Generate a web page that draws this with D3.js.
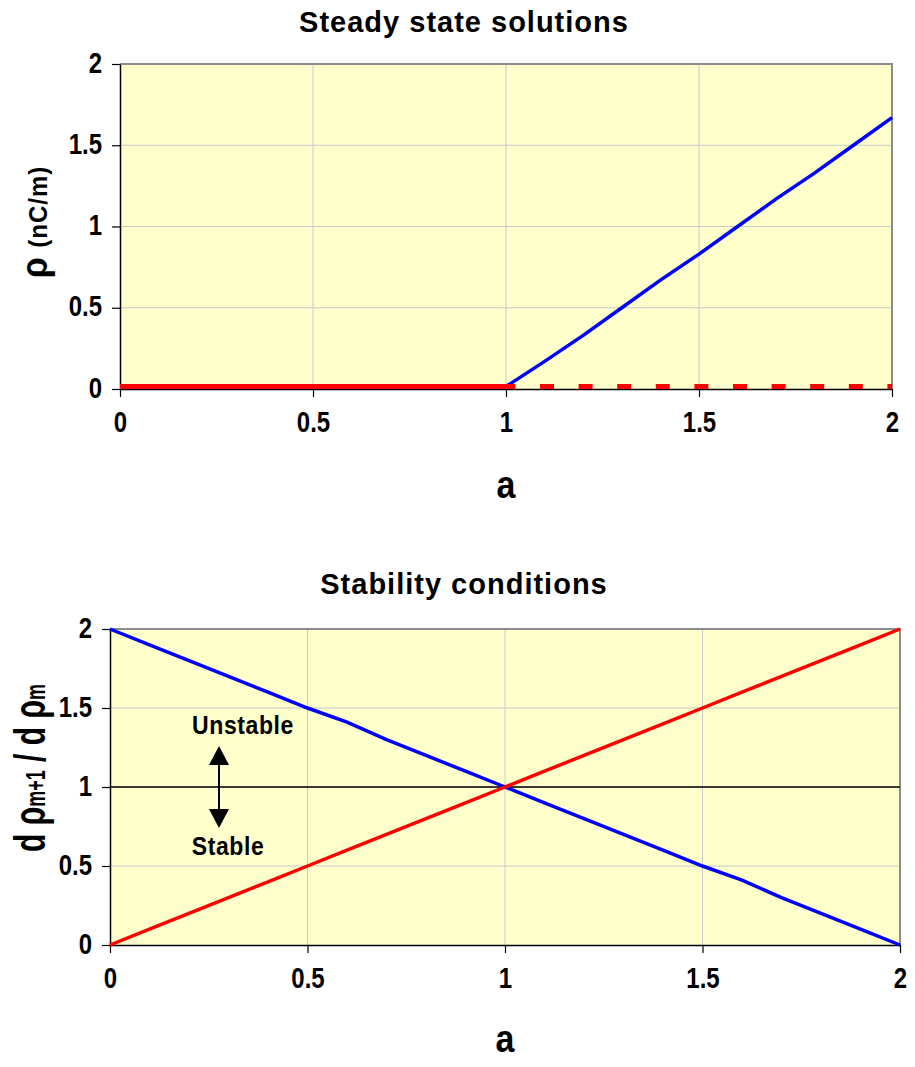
<!DOCTYPE html>
<html>
<head>
<meta charset="utf-8">
<script src="https://cdn.jsdelivr.net/npm/d3@7"></script>
<style>
  body { margin: 0; background: #fff; }
  text { font-family: Arial, "Liberation Sans", sans-serif; font-weight: bold; fill: #000; }
</style>
</head>
<body>
<div id="vis"></div>
<script>
// data
const A_STEPS = [0, 0.1, 0.2, 0.3, 0.4, 0.5, 0.6, 0.7, 0.8, 0.9, 1.0, 1.1, 1.2, 1.3, 1.4, 1.5, 1.6, 1.7, 1.8, 1.9, 2.0];
const X_TICKS = [0, 0.5, 1, 1.5, 2];
const Y_TICKS = [0, 0.5, 1, 1.5, 2];

// steady state: red solution rho=0 (solid up to 1, dashed after), blue branch after 1
const RHO_ZERO_A = [0, 0.1, 0.2, 0.3, 0.4, 0.5, 0.6, 0.7, 0.8, 0.9, 1.0];
const RHO_ZERO = [0.015, 0.015, 0.015, 0.015, 0.015, 0.015, 0.015, 0.015, 0.015, 0.015, 0.015];
const RHO_ZERO_DASH_A = [1.0, 1.1, 1.2, 1.3, 1.4, 1.5, 1.6, 1.7, 1.8, 1.9, 2.0];
const RHO_ZERO_DASH = [0.015, 0.015, 0.015, 0.015, 0.015, 0.015, 0.015, 0.015, 0.015, 0.015, 0.015];
const RHO_BRANCH_A = [1.0, 1.1, 1.2, 1.3, 1.4, 1.5, 1.6, 1.7, 1.8, 1.9, 2.0];
const RHO_BRANCH = [0.015, 0.17, 0.33, 0.5, 0.67, 0.83, 1.0, 1.17, 1.33, 1.5, 1.67];

// stability: derivative for each solution
const DERIV_BLUE = [2.0, 1.9, 1.8, 1.7, 1.6, 1.5, 1.41, 1.3, 1.2, 1.1, 1.0, 0.9, 0.8, 0.7, 0.6, 0.5, 0.41, 0.3, 0.2, 0.1, 0.0];
const DERIV_RED = [0.0, 0.1, 0.2, 0.3, 0.4, 0.5, 0.6, 0.7, 0.8, 0.9, 1.0, 1.1, 1.2, 1.3, 1.4, 1.5, 1.6, 1.7, 1.8, 1.9, 2.0];
const STABLE_LINE = [1, 1];

const WIDTH = 915, HEIGHT = 1067;
const STRETCH = 1.2; // the original's lettering is drawn taller than plain Arial

const SVG = d3.select("#vis").append("svg")
    .attr("width", WIDTH)
    .attr("height", HEIGHT);

function zip(xs, ys) { return xs.map((x, i) => [x, ys[i]]); }

// tall text: baseline kept at (x, y), glyphs stretched vertically
function tallText(parent, x, y, size, str, stretch) {
    return parent.append("text")
        .attr("transform", `translate(${x},${y}) scale(1,${stretch || STRETCH})`)
        .attr("text-anchor", "middle")
        .attr("font-size", size)
        .text(str);
}

function makeChart(box, title, titleY, xLabelY) {
    const X = d3.scaleLinear().domain([0, 2]).range([box.left, box.right]);
    const Y = d3.scaleLinear().domain([0, 2]).range([box.bottom, box.top]);
    const g = SVG.append("g");

    g.append("rect")
        .attr("x", box.left).attr("y", box.top)
        .attr("width", box.right - box.left).attr("height", box.bottom - box.top)
        .attr("fill", "#ffffcc");

    // grid
    g.selectAll(".vgrid").data(X_TICKS.slice(1, -1)).enter().append("line")
        .attr("x1", d => X(d)).attr("x2", d => X(d))
        .attr("y1", box.top).attr("y2", box.bottom)
        .attr("stroke", "#c8c8c8").attr("stroke-width", 1);
    g.selectAll(".hgrid").data(Y_TICKS.slice(1, -1)).enter().append("line")
        .attr("x1", box.left).attr("x2", box.right)
        .attr("y1", d => Y(d)).attr("y2", d => Y(d))
        .attr("stroke", "#c8c8c8").attr("stroke-width", 1);

    // top/right frame
    g.append("path")
        .attr("d", `M${box.left},${box.top}H${box.right}V${box.bottom}`)
        .attr("fill", "none").attr("stroke", "#8c8c8c").attr("stroke-width", 2);

    // axes
    const xAxis = g.append("g")
        .attr("transform", "translate(0," + box.bottom + ")")
        .call(d3.axisBottom(X).tickValues(X_TICKS).tickSize(8).tickSizeOuter(0).tickFormat(d3.format("")));
    const yAxis = g.append("g")
        .attr("transform", "translate(" + box.left + ",0)")
        .call(d3.axisLeft(Y).tickValues(Y_TICKS).tickSize(8).tickSizeOuter(0).tickPadding(10).tickFormat(d3.format("")));
    [xAxis, yAxis].forEach(ax => {
        ax.attr("font-family", null).attr("font-size", null);
        ax.select(".domain").attr("stroke", "#000").attr("stroke-width", 1.5);
        ax.selectAll(".tick line").attr("stroke", "#000").attr("stroke-width", 1.2);
        ax.selectAll("text")
            .attr("font-size", 24)
            .attr("fill", "#000");
    });
    // x labels: baseline 43px below axis, stretched
    xAxis.selectAll("text")
        .attr("y", null).attr("dy", null)
        .attr("transform", `translate(0,43) scale(1,${STRETCH})`);
    yAxis.selectAll("text")
        .attr("x", null).attr("dy", null)
        .attr("transform", `translate(-18,8) scale(1,${STRETCH})`);

    g.append("text")
        .attr("x", 464).attr("y", titleY)
        .attr("text-anchor", "middle")
        .attr("font-size", 29).attr("letter-spacing", 1)
        .text(title);

    tallText(g, (box.left + box.right) / 2, xLabelY, 34, "a", 1.15);

    return {g, X, Y};
}

const line = (X, Y) => d3.line().x(d => X(d[0])).y(d => Y(d[1]));

// chart 1
const C1 = makeChart({left: 120, right: 892, top: 64, bottom: 389}, "Steady state solutions", 32, 498);
const L1 = line(C1.X, C1.Y);
C1.g.append("path").datum(zip(RHO_BRANCH_A, RHO_BRANCH))
    .attr("d", L1).attr("fill", "none").attr("stroke", "#0000ff").attr("stroke-width", 3.5);
C1.g.append("path").datum(zip(RHO_ZERO_A, RHO_ZERO))
    .attr("d", L1).attr("fill", "none").attr("stroke", "#ff0000").attr("stroke-width", 5);
const STEP1 = C1.X(0.1) - C1.X(0);
C1.g.append("path").datum(zip(RHO_ZERO_DASH_A, RHO_ZERO_DASH))
    .attr("d", L1).attr("fill", "none").attr("stroke", "#ff0000").attr("stroke-width", 5)
    .attr("stroke-dasharray", "14," + (STEP1 - 14))
    .attr("stroke-dashoffset", STEP1 - 34);

C1.g.append("text")
    .attr("transform", `translate(47,222) rotate(-90) scale(1,1.1)`)
    .attr("text-anchor", "middle")
    .call(t => {
        t.append("tspan").attr("font-size", 34).text("ρ ");
        t.append("tspan").attr("font-size", 24).attr("letter-spacing", 1).text("(nC/m)");
    });

// chart 2
const C2 = makeChart({left: 110, right: 900, top: 629, bottom: 945}, "Stability conditions", 594, 1052);
const L2 = line(C2.X, C2.Y);
C2.g.append("path").datum([[0, STABLE_LINE[0]], [2, STABLE_LINE[1]]])
    .attr("d", L2).attr("fill", "none").attr("stroke", "#000").attr("stroke-width", 1.5);
C2.g.append("path").datum(zip(A_STEPS, DERIV_BLUE))
    .attr("d", L2).attr("fill", "none").attr("stroke", "#0000ff").attr("stroke-width", 3.5);
C2.g.append("path").datum(zip(A_STEPS, DERIV_RED))
    .attr("d", L2).attr("fill", "none").attr("stroke", "#ff0000").attr("stroke-width", 3.5);

// stable / unstable annotation
const ax = 219;
C2.g.append("line").attr("x1", ax).attr("x2", ax).attr("y1", 760).attr("y2", 815)
    .attr("stroke", "#000").attr("stroke-width", 2);
C2.g.append("path").attr("d", `M${ax},746L${ax - 10},765L${ax + 10},765Z`).attr("fill", "#000");
C2.g.append("path").attr("d", `M${ax},828L${ax - 10},809L${ax + 10},809Z`).attr("fill", "#000");
tallText(C2.g, 243, 734, 23, "Unstable", 1.1).attr("letter-spacing", 0.6);
tallText(C2.g, 228, 855, 23, "Stable", 1.1).attr("letter-spacing", 0.6);

C2.g.append("text")
    .attr("transform", "translate(45,768) rotate(-90) scale(1,1.5)")
    .attr("text-anchor", "middle")
    .call(t => {
        t.append("tspan").attr("font-size", 30).text("d ρ");
        t.append("tspan").attr("font-size", 18).text("m+1");
        t.append("tspan").attr("font-size", 30).text(" / d ρ");
        t.append("tspan").attr("font-size", 18).text("m");
    });
</script>
</body>
</html>
